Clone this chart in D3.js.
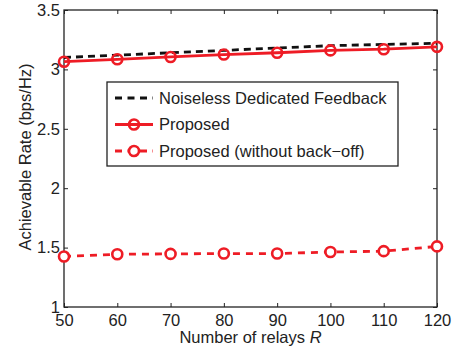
<!DOCTYPE html>
<html lang="en">
<head>
<meta charset="UTF-8">
<title>Achievable Rate vs Number of Relays</title>
<style>
  body { margin: 0; background: #fff; }
  text { font-family: "Liberation Sans", Arial, sans-serif; fill: #222; }
</style>
</head>
<body>
<svg width="455" height="351"></svg>
<script src="https://d3js.org/d3.v7.min.js"></script>
<script>
var relays = [50, 60, 70, 80, 90, 100, 110, 120];
var noiseless = [3.10, 3.12, 3.14, 3.16, 3.18, 3.20, 3.21, 3.22];
var proposed = [3.065, 3.085, 3.105, 3.125, 3.14, 3.16, 3.17, 3.19];
var withoutBackoff = [1.425, 1.444, 1.447, 1.45, 1.45, 1.463, 1.47, 1.51];
var yTicks = [1, 1.5, 2, 2.5, 3, 3.5];
var legendNames = ["Noiseless Dedicated Feedback", "Proposed", "Proposed (without back\u2212off)"];

var svg = d3.select("svg"),
    margin = {top: 10, right: 18, bottom: 44, left: 64};
var width = +svg.attr("width") - margin.left - margin.right;
var height = +svg.attr("height") - margin.top - margin.bottom;

var g = svg.append("g").attr("transform", "translate(" + margin.left + "," + margin.top + ")");

var x = d3.scaleLinear().domain([50, 120]).range([0, width]);
var y = d3.scaleLinear().domain([1, 3.5]).range([height, 0]);

// frame
g.append("rect").attr("width", width).attr("height", height)
  .attr("fill", "none").attr("stroke", "#222").attr("stroke-width", 1.3);

// axes, ticks pointing inward
var xAxis = d3.axisBottom(x).tickValues(relays).tickSize(-4).tickPadding(7).tickFormat(d3.format("d"));
var yAxis = d3.axisLeft(y).tickValues(yTicks).tickSize(-4).tickPadding(4).tickFormat(d3.format("~g"));

g.append("g").attr("transform", "translate(0," + height + ")").call(xAxis);
g.append("g").call(yAxis);
g.append("g").call(d3.axisTop(x).tickValues(relays).tickSize(-4).tickFormat(""));
g.append("g").attr("transform", "translate(" + width + ",0)").call(d3.axisRight(y).tickValues(yTicks).tickSize(-4).tickFormat(""));

g.selectAll(".domain").remove();
g.selectAll(".tick line").attr("stroke", "#222");
g.selectAll(".tick text").style("font-size", "16.5px").style("fill", "#222");

var line = d3.line().x(function(d) { return x(d[0]); }).y(function(d) { return y(d[1]); });
function pairs(vals) { return relays.map(function(r, i) { return [r, vals[i]]; }); }

var series = [
  {name: legendNames[0], vals: noiseless, color: "#111", dash: "7,5", marker: false, fill: "none"},
  {name: legendNames[1], vals: proposed, color: "#ee1c25", dash: null, marker: true, fill: "none"},
  {name: legendNames[2], vals: withoutBackoff, color: "#ee1c25", dash: "7,6", marker: true, fill: "#fff"}
];

series.forEach(function(s) {
  g.append("path").datum(pairs(s.vals))
    .attr("fill", "none").attr("stroke", s.color).attr("stroke-width", 2.8)
    .attr("stroke-dasharray", s.dash).attr("d", line);
  if (s.marker) {
    g.selectAll(null).data(pairs(s.vals)).enter().append("circle")
      .attr("cx", function(d) { return x(d[0]); })
      .attr("cy", function(d) { return y(d[1]); })
      .attr("r", 5).attr("fill", s.fill)
      .attr("stroke", s.color).attr("stroke-width", 2.6);
  }
});

// legend
var legend = svg.append("g").attr("transform", "translate(107,82)");
legend.append("rect").attr("width", 291).attr("height", 84)
  .attr("fill", "#fff").attr("stroke", "#222").attr("stroke-width", 1.3);

series.forEach(function(s, i) {
  var ly = 16 + i * 26.5;
  var row = legend.append("g").attr("transform", "translate(0," + ly + ")");
  row.append("line").attr("x1", 8).attr("x2", 46).attr("y1", 0).attr("y2", 0)
    .attr("stroke", s.color).attr("stroke-width", 2.8)
    .attr("stroke-dasharray", s.dash ? "7,5.5" : null);
  if (s.marker) {
    row.append("circle").attr("cx", 27).attr("cy", 0).attr("r", 5)
      .attr("fill", s.fill).attr("stroke", s.color).attr("stroke-width", 2.6);
  }
  row.append("text").attr("x", 52).attr("y", 0).attr("dy", "0.35em")
    .style("font-size", "16.5px").text(s.name);
});

// axis titles
svg.append("text")
  .attr("x", margin.left + width / 2).attr("y", 343)
  .attr("text-anchor", "middle").style("font-size", "16.5px")
  .html('Number of relays <tspan font-style="italic">R</tspan>');

svg.append("text")
  .attr("transform", "rotate(-90)")
  .attr("x", -(margin.top + 147)).attr("y", 31)
  .attr("text-anchor", "middle").style("font-size", "16.5px")
  .text("Achievable Rate (bps/Hz)");
</script>
</body>
</html>
